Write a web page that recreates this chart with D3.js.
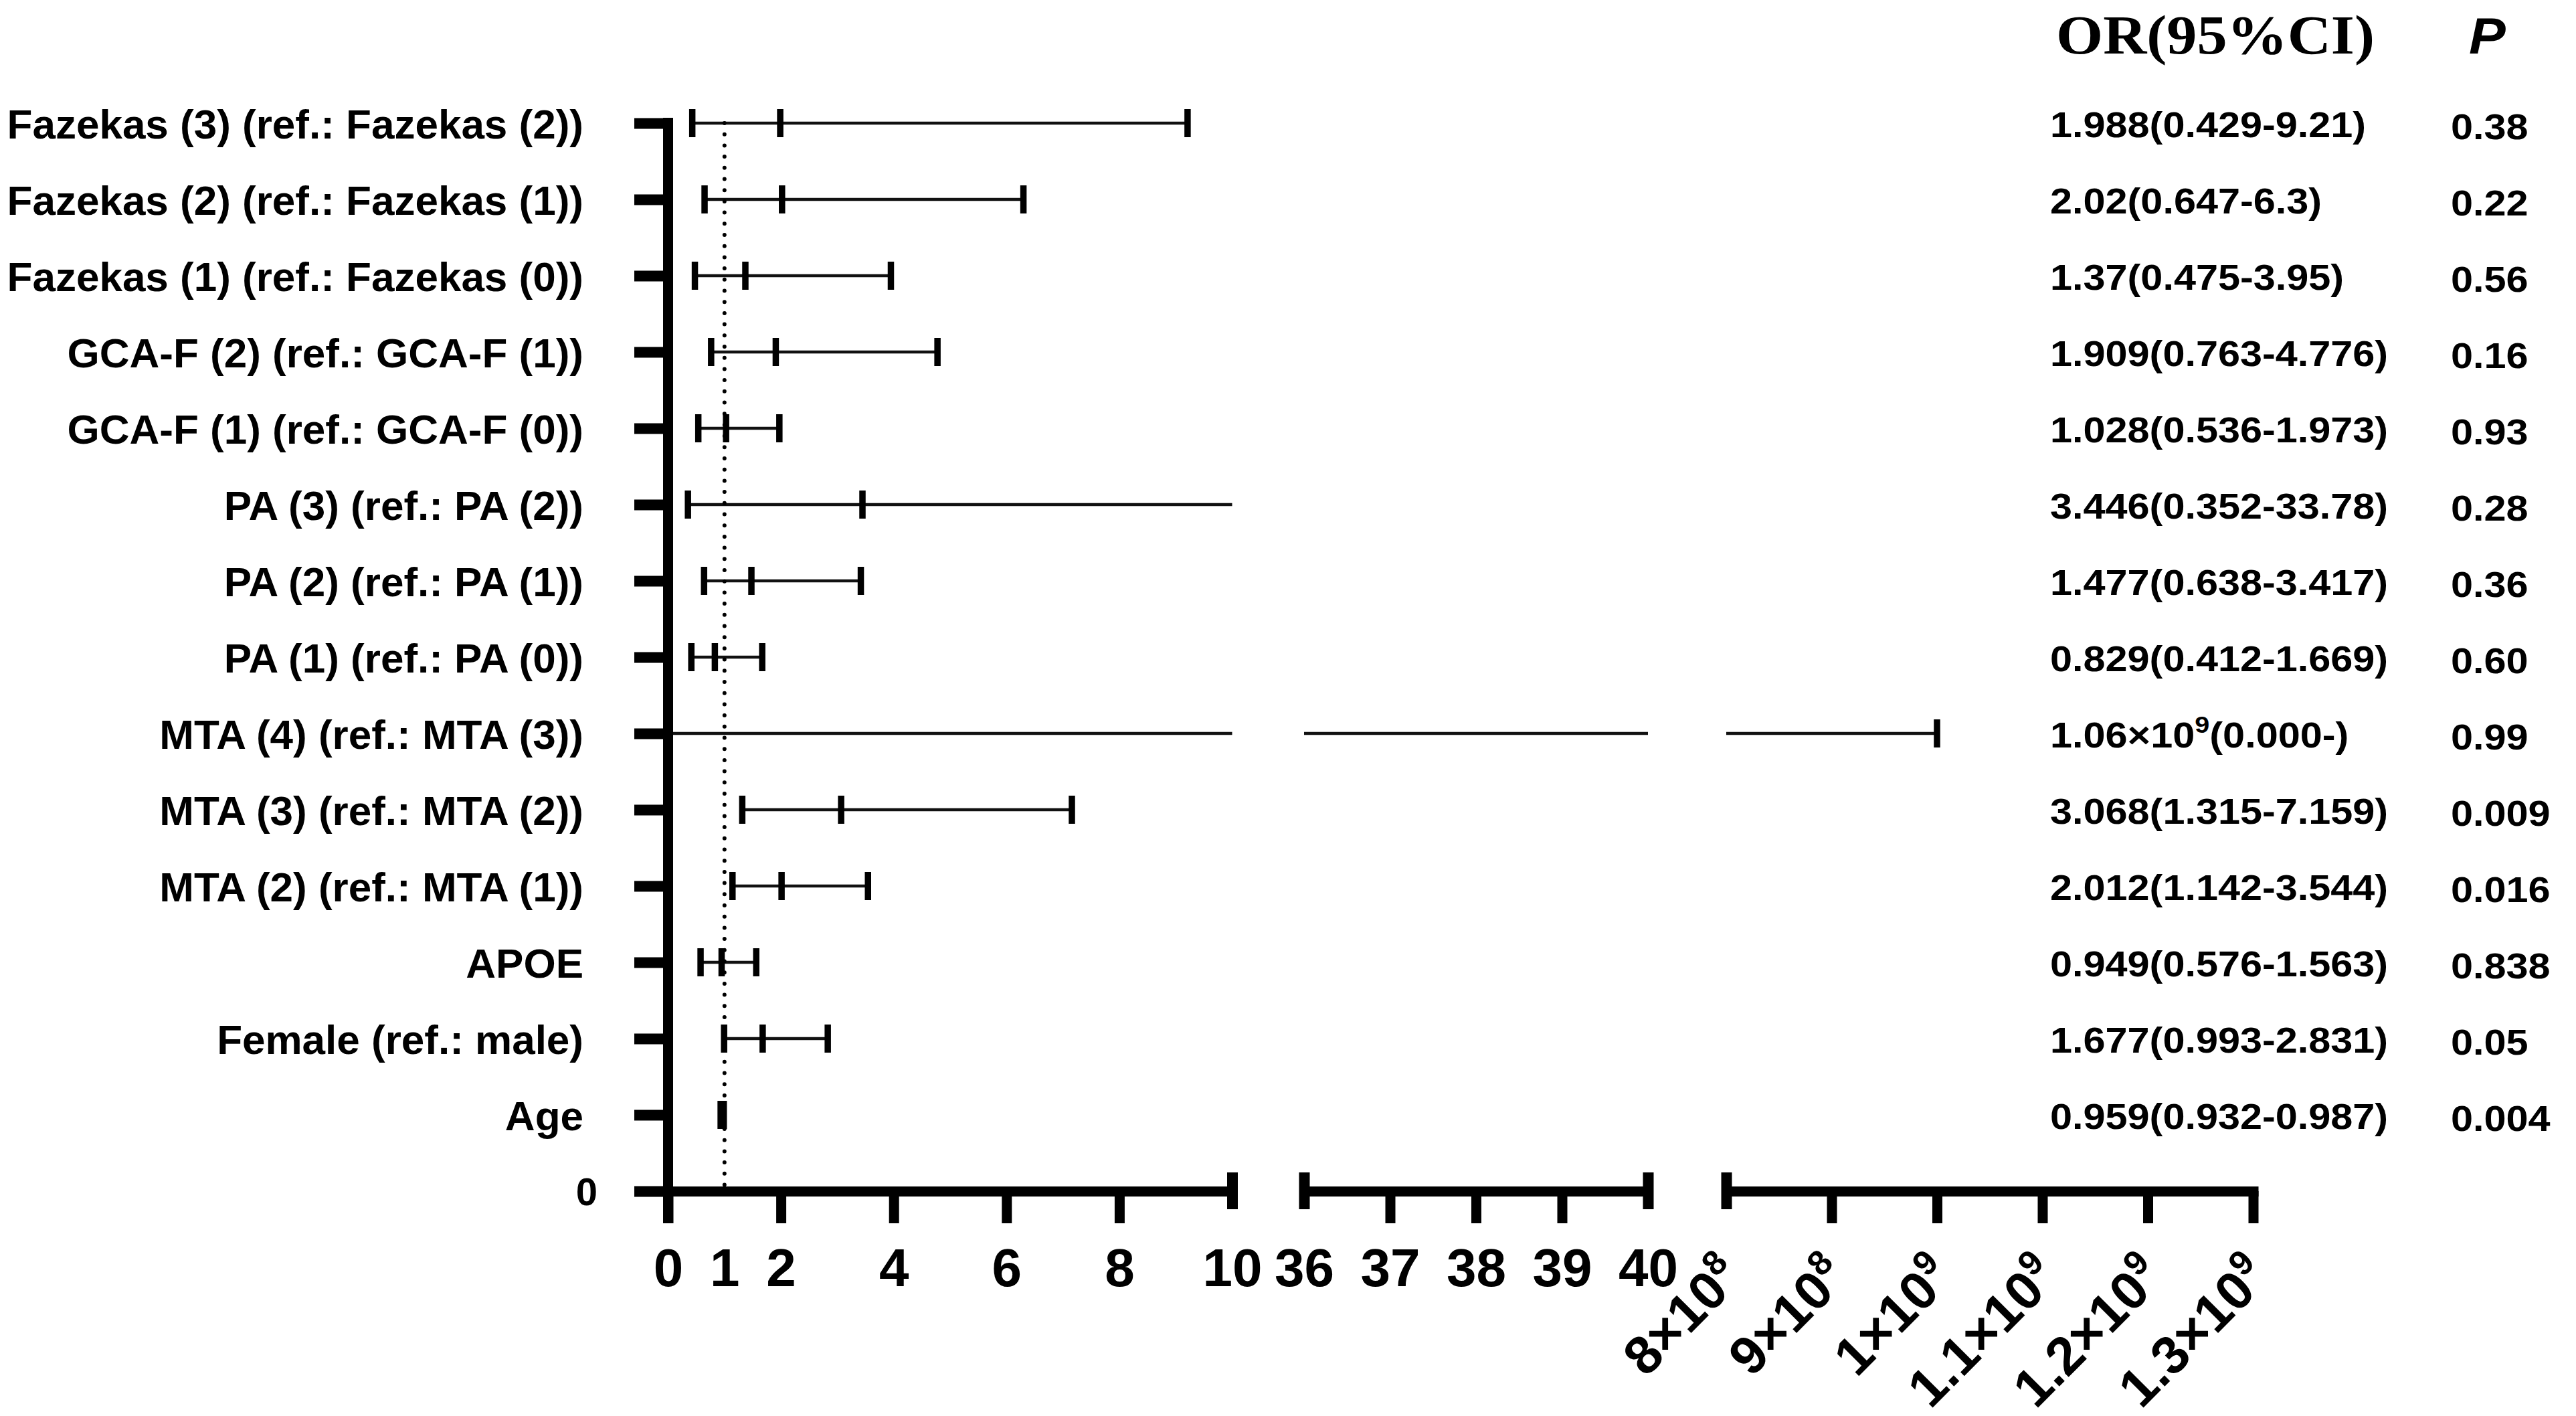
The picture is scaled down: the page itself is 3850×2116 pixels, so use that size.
<!DOCTYPE html>
<html><head><meta charset="utf-8">
<script src="https://cdn.jsdelivr.net/npm/d3@7"></script>
<style>html,body{margin:0;padding:0;background:#fff}</style>
</head><body>
<script>
// ---------------- DATA ----------------
const rowLabels = [
  "Fazekas (3) (ref.: Fazekas (2))",
  "Fazekas (2) (ref.: Fazekas (1))",
  "Fazekas (1) (ref.: Fazekas (0))",
  "GCA-F (2) (ref.: GCA-F (1))",
  "GCA-F (1) (ref.: GCA-F (0))",
  "PA (3) (ref.: PA (2))",
  "PA (2) (ref.: PA (1))",
  "PA (1) (ref.: PA (0))",
  "MTA (4) (ref.: MTA (3))",
  "MTA (3) (ref.: MTA (2))",
  "MTA (2) (ref.: MTA (1))",
  "APOE",
  "Female (ref.: male)",
  "Age"
];
const loVals = [0.429, 0.647, 0.475, 0.763, 0.536, 0.352, 0.638, 0.412, 0, 1.315, 1.142, 0.576, 0.993, 0.932];
const orVals = [1.988, 2.02, 1.37, 1.909, 1.028, 3.446, 1.477, 0.829, 1.0e9, 3.068, 2.012, 0.949, 1.677, 0.959];
const hiVals = [9.21, 6.3, 3.95, 4.776, 1.973, 33.78, 3.417, 1.669, null, 7.159, 3.544, 1.563, 2.831, 0.987];
const orTexts = [
  "1.988(0.429-9.21)", "2.02(0.647-6.3)", "1.37(0.475-3.95)", "1.909(0.763-4.776)",
  "1.028(0.536-1.973)", "3.446(0.352-33.78)", "1.477(0.638-3.417)", "0.829(0.412-1.669)",
  "1.06×10^9(0.000-)", "3.068(1.315-7.159)", "2.012(1.142-3.544)", "0.949(0.576-1.563)",
  "1.677(0.993-2.831)", "0.959(0.932-0.987)"
];
const pTexts = ["0.38","0.22","0.56","0.16","0.93","0.28","0.36","0.60","0.99","0.009","0.016","0.838","0.05","0.004"];
const refValue = 1;
const zeroLabel = "0";
const seg1Domain = [0, 10];
const seg2Domain = [36, 40];
const seg3Domain = [8e8, 1.3e9];
const seg1Ticks = [0, 1, 2, 4, 6, 8, 10];
const seg2Ticks = [36, 37, 38, 39, 40];
const seg3Ticks = [8e8, 9e8, 1e9, 1.1e9, 1.2e9, 1.3e9];
const seg3TickMantissa = ["8", "9", "1", "1.1", "1.2", "1.3"];
const seg3TickExponent = ["8", "8", "9", "9", "9", "9"];
const headerOR = "OR(95%CI)";
const headerP = "P";

// ---------------- LAYOUT ----------------
const W = 3850, H = 2116;
const SANS = "'Liberation Sans', Arial, Helvetica, sans-serif";
const SERIF = "'Liberation Serif', 'Times New Roman', serif";

const svg = d3.select("body").append("svg")
  .attr("width", W).attr("height", H).attr("viewBox", `0 0 ${W} ${H}`);
svg.append("rect").attr("width", W).attr("height", H).attr("fill", "#fff");

const y = d3.scalePoint().domain(rowLabels.concat([zeroLabel])).range([184, 1780]);
const axisY = y(zeroLabel);

const segs = [
  { x: d3.scaleLinear().domain(seg1Domain).range([998.5, 1841.5]), ticks: seg1Ticks, breaks: [seg1Domain[1]] },
  { x: d3.scaleLinear().domain(seg2Domain).range([1949, 2463]), ticks: seg2Ticks, breaks: [seg2Domain[0], seg2Domain[1]] },
  { x: d3.scaleLinear().domain(seg3Domain).range([2580, 3367.5]), ticks: seg3Ticks, breaks: [seg3Domain[0]] }
];

const rows = rowLabels.map((r, i) => ({ label: r, lo: loVals[i], or: orVals[i], hi: hiVals[i] }));

// bars
const barG = svg.append("g");
segs.forEach(s => {
  const [d0, d1] = s.x.domain();
  rows.forEach(r => {
    const a = r.lo, b = (r.hi != null ? r.hi : r.or);
    if (b < d0 || a > d1) return;
    const yy = y(r.label);
    barG.append("line")
      .attr("x1", s.x(Math.max(a, d0))).attr("x2", s.x(Math.min(b, d1)))
      .attr("y1", yy).attr("y2", yy)
      .attr("stroke", "#111").attr("stroke-width", 4.5);
    [r.lo, r.or, r.hi].forEach(v => {
      if (v == null || v < d0 || v > d1) return;
      barG.append("line")
        .attr("x1", s.x(v)).attr("x2", s.x(v))
        .attr("y1", yy - 21).attr("y2", yy + 21)
        .attr("stroke", "#000").attr("stroke-width", 9.5);
    });
  });
});

// reference dotted line
svg.append("line")
  .attr("x1", segs[0].x(refValue)).attr("x2", segs[0].x(refValue))
  .attr("y1", y(rowLabels[0])).attr("y2", axisY - 8)
  .attr("stroke", "#000").attr("stroke-width", 6)
  .attr("stroke-linecap", "round").attr("stroke-dasharray", "0 16.7");

// y axis
const gy = svg.append("g").attr("transform", `translate(${segs[0].x(0)},0)`)
  .call(d3.axisLeft(y).tickSize(50.5).tickPadding(76));
gy.select(".domain").remove();
gy.selectAll(".tick line").attr("stroke", "#000").attr("stroke-width", 16);
gy.selectAll(".tick text").attr("fill", "#000").attr("dy", "0.355em")
  .style("font-family", SANS).style("font-weight", "bold").style("font-size", "62px");
gy.selectAll(".tick").filter(d => d === zeroLabel).select("text")
  .attr("dx", 21).style("font-size", "58px");
svg.append("line")
  .attr("x1", segs[0].x(0)).attr("x2", segs[0].x(0))
  .attr("y1", y(rowLabels[0]) - 8).attr("y2", axisY + 48)
  .attr("stroke", "#000").attr("stroke-width", 15);

// x axes (broken)
segs.forEach((s, k) => {
  const ax = d3.axisBottom(s.x).tickValues(s.ticks).tickSize(48)
    .tickFormat(k < 2 ? d3.format("d") : () => "");
  const g = svg.append("g").attr("transform", `translate(0,${axisY})`).call(ax);
  g.select(".domain").remove();
  const [d0, d1] = s.x.domain();
  g.insert("line", ":first-child")
    .attr("x1", s.x(d0)).attr("x2", s.x(d1) + (k === 2 ? 8 : 0))
    .attr("y1", 0.5).attr("y2", 0.5)
    .attr("stroke", "#000").attr("stroke-width", 15);
  g.selectAll(".tick line").attr("stroke", "#000").attr("stroke-width", 15);
  g.selectAll(".tick").filter(d => s.breaks.includes(d)).select("line")
    .attr("y1", -28).attr("y2", 27).attr("stroke-width", 16);
  if (k === 0) g.selectAll(".tick").filter(d => d === refValue).select("line").remove();
  const txt = g.selectAll(".tick text").attr("fill", "#000")
    .style("font-family", SANS).style("font-weight", "bold").style("font-size", "80px");
  if (k < 2) {
    txt.attr("y", 142).attr("dy", 0);
  } else {
    txt.each(function (d) {
      const i = seg3Ticks.indexOf(d);
      const t = d3.select(this);
      t.attr("y", 0).attr("dy", null).attr("text-anchor", "end")
        .attr("transform", "translate(27,132) rotate(-45)");
      t.append("tspan").text(seg3TickMantissa[i] + "×10");
      t.append("tspan").attr("dy", -32).style("font-size", "52px").text(seg3TickExponent[i]);
    });
  }
});

// right table
const tbl = svg.append("g");
tbl.append("text").text(headerOR)
  .attr("transform", "translate(3073,80) scale(1.1,1)")
  .style("font-family", SERIF).style("font-weight", "bold").style("font-size", "82px").attr("fill", "#000");
tbl.append("text").text(headerP)
  .attr("transform", "translate(3690,80) scale(1.08,1)")
  .style("font-family", SANS).style("font-weight", "bold").style("font-style", "italic")
  .style("font-size", "76px").attr("fill", "#000");

rowLabels.forEach((r, i) => {
  const yy = y(r);
  const t = tbl.append("text")
    .attr("transform", `translate(3064,${yy + 21}) scale(1.1,1)`)
    .style("font-family", SANS).style("font-weight", "bold").style("font-size", "54px").attr("fill", "#000");
  const m = orTexts[i].match(/^(.*)\^(\d)(.*)$/);
  if (m) {
    t.append("tspan").text(m[1]);
    t.append("tspan").attr("dy", -22).style("font-size", "36px").text(m[2]);
    t.append("tspan").attr("dy", 22).text(m[3]);
  } else {
    t.text(orTexts[i]);
  }
  tbl.append("text").text(pTexts[i])
    .attr("transform", `translate(3663,${yy + 24}) scale(1.1,1)`)
    .style("font-family", SANS).style("font-weight", "bold").style("font-size", "54px").attr("fill", "#000");
});
</script>
</body></html>
